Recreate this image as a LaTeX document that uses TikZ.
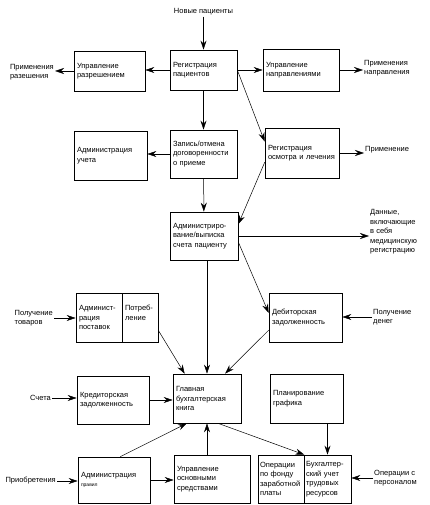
\documentclass[tikz,border=0pt]{standalone}
\usepackage{fontspec}
\setsansfont{Liberation Sans}
\usetikzlibrary{arrows.meta}

\tikzset{
  box/.style={draw, line width=0.6pt, font=\sffamily\fontsize{7.5}{9.5}\selectfont,
    align=left, inner xsep=3pt, inner ysep=2pt},
  lbl/.style={font=\sffamily\fontsize{7.5}{9.5}\selectfont, align=left, inner sep=1pt},
  arr/.style={line width=0.5pt, -{Stealth[length=9pt,width=6pt,inset=3pt]}}
}

\begin{document}
\begin{tikzpicture}[x=1pt,y=-1pt]
		% border
		\useasboundingbox (0,0) rectangle (429,505);
		% top row
		\node[box, text width=61pt, minimum height=40pt] (reg)  at (203.5,70) {Регистрация\\пациентов};
		\node[box, text width=65pt, minimum height=40pt] (razr) at (109.5,71) {Управление\\разрешением};
		\node[box, text width=70pt, minimum height=42pt] (napr) at (301,70)   {Управление\\направлениями};
		% second row
		\node[box, text width=61pt, minimum height=48pt] (zap)  at (203.5,154) {Запись/отмена\\договоренности\\о приеме};
		\node[box, text width=67pt, minimum height=49pt] (uch)  at (110.5,155.5) {Администрация\\учета};
		\node[box, text width=68pt, minimum height=50pt] (osm)  at (302,153)  {Регистрация\\осмотра и лечения};
		% billing
		\node[box, text width=62pt, minimum height=48pt] (bill) at (204,236)  {Администриро-\\вание/выписка\\счета пациенту};
		% supplies / receivables
		\node[box, text width=40pt, minimum height=49pt] (post) at (99,317.5)  {Админист-\\рация\\поставок};
		\node[box, text width=30pt, minimum height=49pt] (potr) at (140,317.5) {Потреб-\\ление\\~};
		\node[box, text width=67pt, minimum height=49pt] (deb)  at (305.5,317.5) {Дебиторская\\задолженность};
		% ledger row
		\node[box, text width=62pt, minimum height=49pt] (book) at (207,398.5) {Главная\\бухгалтерская\\книга};
		\node[box, text width=66pt, minimum height=48pt] (kred) at (113,400)   {Кредиторская\\задолженность};
		\node[box, text width=67pt, minimum height=49pt] (plan) at (306.5,398.5) {Планирование\\графика};
		% bottom row
		\node[box, text width=66pt, minimum height=46pt] (prav) at (114,480) {Администрация\\{\fontsize{5}{6}\selectfont правил}};
		\node[box, text width=70pt, minimum height=48pt] (osn)  at (212,479) {Управление\\основными\\средствами};
		\node[box, inner xsep=2pt, text width=42pt, minimum height=48pt] (fond) at (281,479)   {Операции\\по фонду\\заработной\\платы};
		\node[box, inner xsep=2pt, text width=43pt, minimum height=48pt] (buh)  at (327.5,479) {Бухгалтер-\\ский учет\\трудовых\\ресурсов};
		% outside inputs / outputs
		\node[lbl] (newp) at (203.5,12) {Новые пациенты};
		\node[lbl, anchor=east] (aprazr) at (55,72)  {Применения\\разешения};
		\node[lbl, anchor=west] (apnapr) at (363,68) {Применения\\направления};
		\node[lbl, anchor=west] (apl)    at (364,150) {Применение};
		\node[lbl, anchor=west] (dan)    at (369,232) {Данные,\\включающие\\в себя\\медицинскую\\регистрацию};
		\node[lbl, anchor=east] (tov)    at (54,318)  {Получение\\товаров};
		\node[lbl, anchor=west] (den)    at (372,317) {Получение\\денег};
		\node[lbl, anchor=east] (sch)    at (52,398)  {Счета};
		\node[lbl, anchor=east] (pri)    at (57,481)  {Приобретения};
		\node[lbl, anchor=west] (pers)   at (373,478) {Операции с\\персоналом};
		% connectors from registration
		\draw[arr] (newp) -- (reg);
		\draw[arr] (reg.west) -- (reg.west -| razr.east);
		\draw[arr] (reg.east) -- (reg.east -| napr.west);
		\draw[arr] (reg) -- (zap);
		\draw[arr] (reg.east) -- (osm.163);
		\draw[arr] (razr.west) -- (razr.west -| aprazr.east);
		\draw[arr] (napr.east) -- (napr.east -| apnapr.west);
		% connectors of second row
		\draw[arr] (zap.west) -- (zap.west -| uch.east);
		\draw[arr] (zap) -- (bill);
		\draw[arr] (osm.194) -- (bill.19);
		\draw[arr] (osm.east) -- (osm.east -| apl.west);
		% connectors from billing
		\draw[arr] (bill.east) -- (bill.east -| dan.west);
		\draw[arr] (bill.350) -- (deb.173);
		\draw[arr] (book.north |- bill.south) -- (book.north);
		% into the ledger
		\draw[arr] (tov.east) -- (tov.east -| post.west);
		\draw[arr] (den.west) -- (den.west -| deb.east);
		\draw[arr] (potr.325) -- (book.132);
		\draw[arr] (deb.199) -- (book.54);
		\draw[arr] (sch.east) -- (sch.east -| kred.west);
		\draw[arr] (kred.east) -- (kred.east -| book.west);
		\draw[arr] (prav.75) -- (book.231);
		\draw[arr] (book.south |- osn.north) -- (book.south);
		% bottom row
		\draw[arr] (pri.east) -- (pri.east -| prav.west);
		\draw[arr] (prav.east) -- (prav.east -| osn.west);
		\draw[arr] (book.294) -- (fond.north east);
		\draw[arr] (buh.north |- plan.south) -- (buh.north);
		\draw[arr] (pers.west) -- (pers.west -| buh.east);
	\end{tikzpicture}
\end{document}
